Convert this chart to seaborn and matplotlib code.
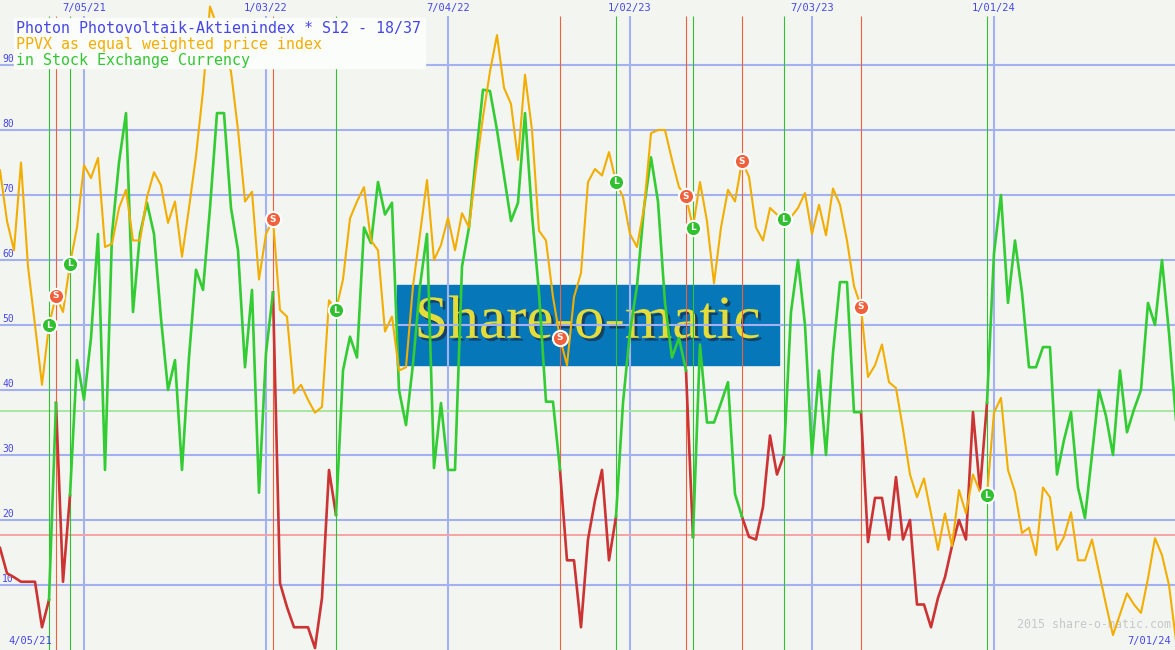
import numpy as np
import pandas as pd
import seaborn as sns
import matplotlib.pyplot as plt
import matplotlib.patheffects as pe
from matplotlib.patches import Rectangle

# weekly values, first point = week 1 after 5 Apr 2021
ppvx = [73.8, 66, 61.5, 75, 59, 50, 40.8, 50, 54.5, 52, 59.4, 65, 74.6, 72.6, 75.7, 62, 62.5, 68, 70.8, 63,
        63, 69.7, 73.5, 71.5, 65.7, 69, 60.5, 68, 76, 86, 99, 96, 92, 89, 80, 69, 70.5, 57, 64, 66.3,
        52.3, 51.3, 39.5, 40.8, 38.5, 36.5, 37.4, 53.8, 52.3, 57, 66.4, 69, 71.2, 63, 61.5, 49, 51.3, 43, 43.5, 56,
        64, 72.3, 60, 62.3, 66.5, 61.5, 67.2, 65, 74, 82, 89, 94.6, 86.5, 84, 75.4, 88.5, 80, 64.5, 63, 54.3,
        48, 43.8, 54.3, 58, 72, 74, 73, 76.6, 72, 69.7, 64, 62, 68, 79.5, 80, 80, 75.4, 71.2, 69.8, 65,
        72, 66, 56.4, 65, 70.8, 69, 75.2, 72.8, 65, 63, 68, 67, 66.3, 66.6, 68, 70.3, 64, 68.5, 63.8, 71,
        68.5, 63, 56, 52.8, 42, 43.8, 47, 41.2, 40.3, 34, 27, 23.5, 26.4, 21, 15.4, 21, 16, 24.6, 21, 27,
        24.3, 23.8, 36.5, 38.8, 27.7, 24.3, 18, 18.8, 14.6, 25, 23.5, 15.4, 17.4, 21.2, 13.8, 13.8, 17, 12, 7, 2.3,
        5.5, 8.7, 7, 5.7, 11, 17.2, 14.6, 10, 1.5]

osc = [15.7, 11.8, 11.2, 10.5, 10.5, 10.5, 3.5, 7.7, 38, 10.5, 23.8, 44.6, 38.5, 48, 64, 27.7, 64, 75, 82.6, 52,
       64, 68.8, 64, 51, 40, 44.6, 27.7, 45, 58.5, 55.4, 68, 82.6, 82.6, 68, 61.5, 43.5, 55.4, 24.2, 45.7, 55,
       10.3, 6.6, 3.5, 3.5, 3.5, 0.3, 8, 27.7, 20.8, 43, 48.2, 45, 65, 62.6, 72, 67, 68.8, 40, 34.6, 44,
       56, 64, 28, 38, 27.7, 27.7, 59, 65, 76, 86.2, 86, 80, 73, 66, 68.8, 82.6, 67, 55, 38.2, 38.2,
       27.7, 13.8, 13.8, 3.5, 17, 23, 27.7, 13.8, 20.5, 38, 49, 56, 68, 75.8, 69, 53.4, 45, 48, 43, 17.4,
       47, 35, 35, 38, 41.2, 24, 20.5, 17.4, 17, 22, 33, 27, 30, 52, 60, 50, 30, 43, 30, 45.7,
       56.6, 56.6, 36.6, 36.6, 16.6, 23.4, 23.4, 17, 26.6, 17, 20, 7, 7, 3.5, 8, 11.2, 16, 20, 17, 36.6,
       24.6, 38, 61, 70, 53.4, 63, 55, 43.5, 43.5, 46.6, 46.6, 27, 32.3, 36.6, 25, 20.3, 30, 40, 36, 30,
       43, 33.5, 37, 40, 53.4, 50, 60, 48.8, 35.4]

buy_weeks = [8, 11, 49, 89, 100, 113, 142]
sell_weeks = [9, 40, 81, 99, 107, 124]
upper_level = 36.8
lower_level = 17.7

grid_dates = ["2021-07-05", "2022-01-03", "2022-07-04", "2023-01-02", "2023-07-03", "2024-01-01"]
grid_labels = ["7/05/21", "1/03/22", "7/04/22", "1/02/23", "7/03/23", "1/01/24"]
y_levels = [10, 20, 30, 40, 50, 60, 70, 80, 90]

title_lines = ["Photon Photovoltaik-Aktienindex * S12 - 18/37",
               "PPVX as equal weighted price index",
               "in Stock Exchange Currency"]

bg = "#F3F5F1"
grid_blue = "#A3B1F0"
label_blue = "#4646E6"
c_orange = "#F2AE00"
c_green = "#33CC33"
c_red = "#CC3333"
mono = "DejaVu Sans Mono"

start = pd.Timestamp("2021-04-05")
weeks = np.arange(1, len(ppvx) + 1)
dates = start + pd.to_timedelta(weeks * 7, unit="D")
df = pd.DataFrame({"date": dates, "ppvx": ppvx, "osc": osc})

# split oscillator into buy (green) / sell (red) stretches
edges = [1] + sorted(buy_weeks + sell_weeks) + [len(osc)]
rows = []
state = "sell"
for seg, (a, b) in enumerate(zip(edges[:-1], edges[1:])):
    for w in range(a, b + 1):
        rows.append((seg, state, dates[w - 1], osc[w - 1]))
    state = "buy" if b in buy_weeks else "sell"
seg_df = pd.DataFrame(rows, columns=["seg", "state", "date", "osc"])

fig = plt.figure(figsize=(11.75, 6.5), dpi=100, facecolor=bg)
ax = fig.add_axes([0, 0, 1, 1])
ax.set_facecolor(bg)

# logo in the background
ax.add_patch(Rectangle((0.338, 0.4385), 0.325, 0.123, transform=ax.transAxes,
                       color="#0678BA", zorder=0))
ax.text(0.5, 0.503, "Share-o-matic", transform=ax.transAxes, ha="center", va="center",
        family="Liberation Serif", fontsize=44, color="#E4DC3A", zorder=0.5,
        path_effects=[pe.withSimplePatchShadow(offset=(2, -2), shadow_rgbFace="#1A2A40", alpha=0.7)])

# grid
for v in y_levels:
    ax.axhline(v, color=grid_blue, lw=1.5, zorder=1)
    ax.text(0.002, v + 0.15, str(v), transform=ax.get_yaxis_transform(), ha="left", va="bottom",
            family=mono, fontsize=7, color=label_blue, zorder=1)
grid_ts = pd.to_datetime(grid_dates)
ax.vlines(grid_ts, 0, 97.5, color=grid_blue, lw=1.5, zorder=1)
for d, lab in zip(grid_ts, grid_labels):
    ax.text(d, 98.8, lab, ha="center", va="center", family=mono, fontsize=7.5, color=label_blue)

ax.axhline(upper_level, color="#A6E6A0", lw=1.4, zorder=1.5)
ax.axhline(lower_level, color="#F4A4A4", lw=1.4, zorder=1.5)

# signal lines
buy_dates = dates[np.array(buy_weeks) - 1]
sell_dates = dates[np.array(sell_weeks) - 1]
ax.vlines(buy_dates, 0, 97.5, color="#30C030", lw=0.8, zorder=2)
ax.vlines(sell_dates, 0, 97.5, color="#F0603C", lw=0.8, zorder=2)

sns.lineplot(data=seg_df, x="date", y="osc", hue="state", units="seg", estimator=None,
             palette={"buy": c_green, "sell": c_red}, lw=1.9, legend=False, sort=False, ax=ax, zorder=3)
sns.lineplot(data=df, x="date", y="ppvx", color=c_orange, lw=1.5, ax=ax, zorder=4)

# signal markers on the index line
buy_vals = [ppvx[w - 1] for w in buy_weeks]
sell_vals = [ppvx[w - 1] for w in sell_weeks]
ax.scatter(buy_dates, buy_vals, s=120, color="#30C030", edgecolor="white", lw=1.5, zorder=5)
ax.scatter(sell_dates, sell_vals, s=120, color="#F0603C", edgecolor="white", lw=1.5, zorder=5)
for d, v in zip(buy_dates, buy_vals):
    ax.text(d, v, "L", ha="center", va="center", fontsize=6.5, color="white", weight="bold", zorder=6)
for d, v in zip(sell_dates, sell_vals):
    ax.text(d, v, "S", ha="center", va="center", fontsize=6.5, color="white", weight="bold", zorder=6)

# title box
ax.add_patch(Rectangle((0.0115, 0.8954), 0.3503, 0.0769, transform=ax.transAxes,
                       color="#FBFDFB", zorder=7))
for i, (txt, col) in enumerate(zip(title_lines, [label_blue, c_orange, "#33C633"])):
    ax.text(0.0136, 0.9554 - i * 0.0246, txt, transform=ax.transAxes, ha="left", va="center",
            family=mono, fontsize=10.8, color=col, zorder=8)

ax.text(0.007, 0.0145, "4/05/21", transform=ax.transAxes, ha="left", va="center",
        family=mono, fontsize=7.5, color=label_blue)
ax.text(0.997, 0.0145, "7/01/24", transform=ax.transAxes, ha="right", va="center",
        family=mono, fontsize=7.5, color=label_blue)
ax.text(0.997, 0.0385, "2015 share-o-matic.com", transform=ax.transAxes, ha="right", va="center",
        family=mono, fontsize=8.4, color="#C8C8C8")

ax.set_xlim(start + pd.Timedelta(days=7), start + pd.Timedelta(days=7 * 168.86))
ax.set_ylim(0, 100)
ax.set_xticks([])
ax.set_yticks([])
ax.set_xlabel("")
ax.set_ylabel("")
for s in ax.spines.values():
    s.set_visible(False)

fig.savefig("out.png", dpi=100, facecolor=bg)
